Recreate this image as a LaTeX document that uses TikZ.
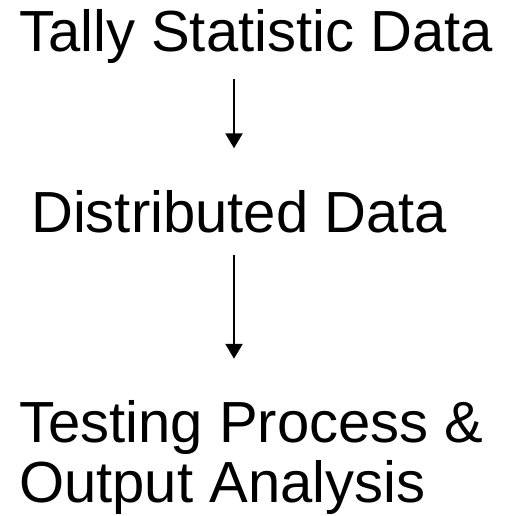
\documentclass[tikz,border=0pt]{standalone}
\usepackage{fontspec}
\setmainfont{Liberation Sans}
\usetikzlibrary{arrows.meta}

\tikzset{
    big text/.style={font=\fontsize{58}{60}\selectfont, inner sep=0pt, anchor=base west,
        align=left},
    flow/.style={line width=2.6pt, -{Triangle[width=17pt,length=15pt]}}
}

\begin{document}
\begin{tikzpicture}[x=1pt,y=1pt]
    \useasboundingbox (0,0) rectangle (504,-516);
    \coordinate (axis) at (234,0);
    \node[big text] (tally) at (19,-52) {Tally Statistic Data};
    \node[big text] (distributed) at (31,-232) {Distributed Data};
    \node[big text] (testing) at (19,-502) {Testing Process \&\\Output Analysis};
    \draw[flow, shorten <=15pt, shorten >=41.5pt] (tally.south -| axis) -- (distributed.north -| axis);
    \draw[flow, shorten <=22pt, shorten >=41pt] (distributed.south -| axis) -- (testing.north -| axis);
\end{tikzpicture}
\end{document}
